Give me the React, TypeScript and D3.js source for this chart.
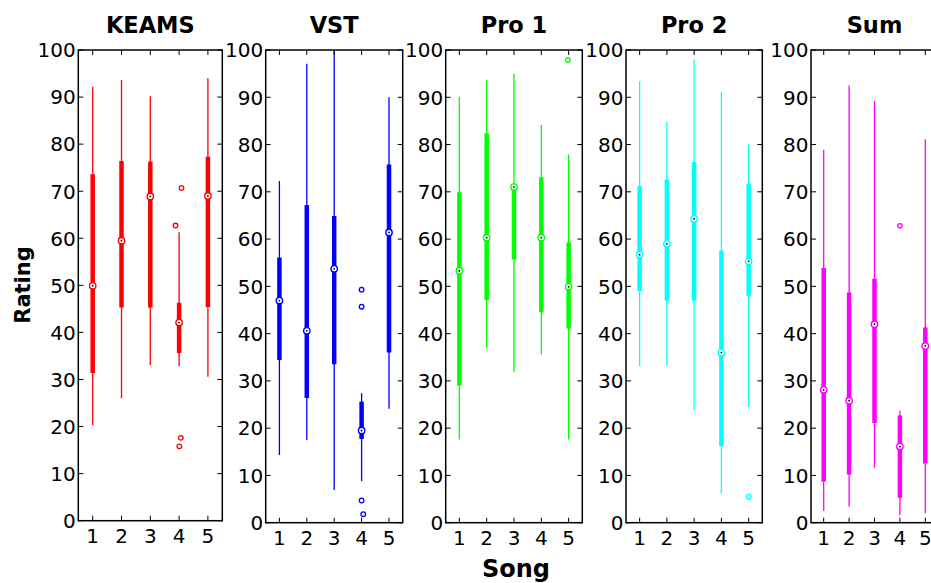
import React, { useEffect, useRef } from 'react';
import * as d3 from 'd3';

const panelTitles = ['KEAMS', 'VST', 'Pro 1', 'Pro 2', 'Sum'];
const panelColors = ['#ff0000', '#0000ff', '#00ff00', '#00ffff', '#ff00ff'];
const songs = [1, 2, 3, 4, 5];
const yTicks = [0, 10, 20, 30, 40, 50, 60, 70, 80, 90, 100];

// per panel, per song: [whisker low, q1, median, q3, whisker high]
const keamsStats = [
  [20.3, 31.4, 49.9, 73.6, 92.2],
  [26.0, 45.3, 59.5, 76.4, 93.6],
  [33.1, 45.3, 68.9, 76.3, 90.2],
  [32.8, 35.6, 42.1, 46.3, 61.3],
  [30.6, 45.4, 69.0, 77.3, 94.0],
];
const vstStats = [
  [14.3, 34.4, 47.0, 56.1, 72.3],
  [17.5, 26.4, 40.6, 67.2, 97.1],
  [6.9, 33.5, 53.7, 64.9, 99.8],
  [8.8, 17.7, 19.5, 25.6, 27.4],
  [24.1, 36.0, 61.4, 75.8, 90.0],
];
const pro1Stats = [
  [17.6, 29.0, 53.3, 69.9, 90.1],
  [36.9, 47.1, 60.3, 82.4, 93.6],
  [31.9, 55.7, 71.0, 71.0, 95.0],
  [35.6, 44.5, 60.3, 73.1, 84.2],
  [17.6, 41.1, 49.9, 59.3, 77.9],
];
const pro2Stats = [
  [33.1, 49.0, 56.7, 71.2, 93.4],
  [33.2, 47.0, 59.0, 72.6, 84.8],
  [23.9, 47.0, 64.3, 76.3, 98.0],
  [6.1, 16.2, 36.0, 57.6, 91.1],
  [24.5, 48.0, 55.3, 71.7, 80.0],
];
const sumStats = [
  [2.5, 8.7, 28.1, 53.9, 78.9],
  [3.4, 10.2, 25.8, 48.7, 92.5],
  [11.6, 21.1, 42.0, 51.6, 89.2],
  [1.6, 5.3, 16.1, 22.7, 23.7],
  [2.0, 12.5, 37.4, 41.3, 81.1],
];

// outliers: [song position, value]
const keamsOutliers = [[3.875, 62.7], [4.083, 70.7], [4.06, 17.6], [4.01, 15.8]];
const vstOutliers = [[4, 49.3], [4, 45.7], [4, 4.7], [4.06, 1.8]];
const pro1Outliers = [[4.97, 97.9]];
const pro2Outliers = [[5, 5.5]];
const sumOutliers = [[4, 62.8]];

const allStats = [keamsStats, vstStats, pro1Stats, pro2Stats, sumStats];
const allOutliers = [keamsOutliers, vstOutliers, pro1Outliers, pro2Outliers, sumOutliers];

const frames = [
  { left: 78.3, right: 222.3, top: 50, bottom: 520.7 },
  { left: 265.7, right: 402.7, top: 50, bottom: 522.7 },
  { left: 445.7, right: 582.3, top: 50, bottom: 522.7 },
  { left: 626, right: 762.3, top: 50, bottom: 522.7 },
  { left: 811, right: 938, top: 50, bottom: 522.7 },
];

const font = 'DejaVu Sans, sans-serif';

export default function App() {
  const svgRef = useRef<SVGSVGElement>(null);

  useEffect(() => {
    document.body.style.margin = '0';
    const svg = d3.select(svgRef.current);
    svg.selectAll('*').remove();

    frames.forEach((f, p) => {
      const color = panelColors[p];
      const x = d3.scaleLinear().domain([0.5, 5.5]).range([f.left, f.right]);
      const y = d3.scaleLinear().domain([0, 100]).range([f.bottom, f.top]);
      const g = svg.append('g');

      // boxes
      allStats[p].forEach((s, i) => {
        const cx = x(songs[i]);
        g.append('line')
          .attr('x1', cx).attr('x2', cx)
          .attr('y1', y(s[0])).attr('y2', y(s[4]))
          .attr('stroke', color).attr('stroke-width', 1.3);
        g.append('line')
          .attr('x1', cx).attr('x2', cx)
          .attr('y1', y(s[1])).attr('y2', y(s[3]))
          .attr('stroke', color).attr('stroke-width', 4.5);
        g.append('circle')
          .attr('cx', cx).attr('cy', y(s[2])).attr('r', 3.2)
          .attr('fill', 'white').attr('stroke', color).attr('stroke-width', 1.4);
        g.append('circle')
          .attr('cx', cx).attr('cy', y(s[2])).attr('r', 0.9)
          .attr('fill', 'black');
      });

      // outliers
      allOutliers[p].forEach(o => {
        g.append('circle')
          .attr('cx', x(o[0])).attr('cy', y(o[1])).attr('r', 2.3)
          .attr('fill', 'none').attr('stroke', color).attr('stroke-width', 1.3);
      });

      // frame
      g.append('rect')
        .attr('x', f.left).attr('y', f.top)
        .attr('width', f.right - f.left).attr('height', f.bottom - f.top)
        .attr('fill', 'none').attr('stroke', 'black').attr('stroke-width', 1.5);

      // inner ticks
      songs.forEach(s => {
        g.append('line').attr('x1', x(s)).attr('x2', x(s))
          .attr('y1', f.bottom).attr('y2', f.bottom - 5).attr('stroke', 'black');
        g.append('line').attr('x1', x(s)).attr('x2', x(s))
          .attr('y1', f.top).attr('y2', f.top + 5).attr('stroke', 'black');
        g.append('text')
          .attr('x', x(s)).attr('y', f.bottom + 22.5)
          .attr('text-anchor', 'middle')
          .style('font-family', font).style('font-size', '20px')
          .text(s);
      });
      yTicks.forEach(t => {
        g.append('line').attr('x1', f.left).attr('x2', f.left + 5)
          .attr('y1', y(t)).attr('y2', y(t)).attr('stroke', 'black');
        g.append('line').attr('x1', f.right).attr('x2', f.right - 5)
          .attr('y1', y(t)).attr('y2', y(t)).attr('stroke', 'black');
        g.append('text')
          .attr('x', f.left - 2.5).attr('y', y(t) + 7.3)
          .attr('text-anchor', 'end')
          .style('font-family', font).style('font-size', '20px')
          .text(t);
      });

      // panel title
      g.append('text')
        .attr('x', (f.left + f.right) / 2).attr('y', 32.5)
        .attr('text-anchor', 'middle')
        .style('font-family', font).style('font-size', '22.5px').style('font-weight', 'bold')
        .text(panelTitles[p]);
    });

    svg.append('text')
      .attr('transform', 'translate(30,285) rotate(-90)')
      .attr('text-anchor', 'middle')
      .style('font-family', font).style('font-size', '21px').style('font-weight', 'bold')
      .text('Rating');

    svg.append('text')
      .attr('x', 516).attr('y', 577)
      .attr('text-anchor', 'middle')
      .style('font-family', font).style('font-size', '24px').style('font-weight', 'bold')
      .text('Song');
  }, []);

  return <svg ref={svgRef} width={931} height={583} style={{ display: 'block' }} />;
}
